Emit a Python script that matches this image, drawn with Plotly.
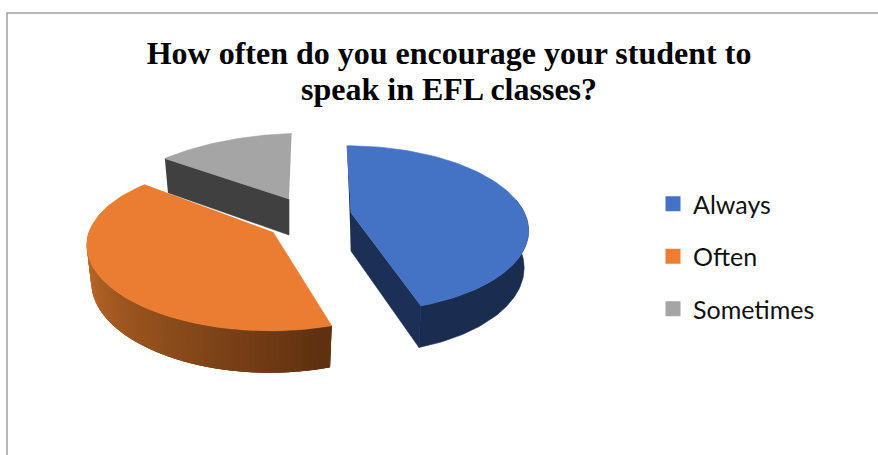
import numpy as np
import plotly.graph_objects as go

title_lines = ["How often do you encourage your student to", "speak in EFL classes?"]
categories = ["Always", "Often", "Sometimes"]
values = [45, 41, 14]
top_colors = ["#4472C4", "#EB7D32", "#A5A5A5"]
legend_colors = ["#4472C4", "#ED7D31", "#A5A5A5"]

W, H = 878, 455
P, DEPTH, SHRINK = 0.19, 36.0, 0.975
# per-slice placement of the exploded wedges: apex, arc centre, radii, lean, tilt
GEOM = [
    dict(ax=351, ay=213, cx=350.5, cy=213, rx=174, rk=80, lean=0.05, tilt=0),
    dict(ax=273, ay=232, cx=265.5, cy=232, rx=175.5, rk=80, lean=0.0, tilt=2.6),
    dict(ax=289, ay=199, cx=289, cy=199, rx=183, rk=78, lean=-0.04, tilt=-5),
]

cum = np.cumsum([0] + values) / sum(values) * 2 * np.pi
spans = list(zip(cum[:-1], cum[1:]))


def top(t, g):
    s = 1 / (1 + P * np.cos(t))
    dy = -g["rk"] * np.cos(t) * s + g["tilt"] * np.sin(t)
    return g["cx"] + g["rx"] * np.sin(t) * s + g["lean"] * dy, g["cy"] + dy


def bottom(t, g):
    x, y = top(t, g)
    s = 1 / (1 + P * np.cos(t))
    return g["cx"] + (x - g["cx"]) * SHRINK, g["cy"] + (y - g["cy"]) * SHRINK + DEPTH * s


def poly(fig, xs, ys, color, lw=0.6):
    fig.add_trace(go.Scatter(x=list(xs), y=list(ys), mode="lines", fill="toself",
                             fillcolor=color, line=dict(color=color, width=lw),
                             hoverinfo="skip", showlegend=False))


def lerp(c1, c2, f):
    return "rgb(%d,%d,%d)" % tuple(a + (b - a) * f for a, b in zip(c1, c2))


fig = go.Figure()

# Sometimes: inner wall, then top face
g = GEOM[2]
a0, a1 = spans[2]
ex, ey = top(a0, g)
bx, by = bottom(a0, g)
poly(fig, [ex, g["ax"], g["ax"], bx], [ey, g["ay"], g["ay"] + DEPTH, by + 1], "#404040")
ts = np.linspace(a0, a1, 40)
px, py = top(ts, g)
poly(fig, [g["ax"], *px], [g["ay"], *py], top_colors[2])

# Often: curved side with gradient (overlapping bands drawn from the left), then top face
g = GEOM[1]
a0, a1 = spans[1]
edges = np.linspace(np.radians(272), a0, 70)
for i in range(len(edges) - 1):
    q = np.linspace(edges[i], edges[min(i + 3, len(edges) - 1)], 6)
    tx, ty = top(q, g)
    ux, uy = bottom(q, g)
    f = i / (len(edges) - 2)
    poly(fig, [*tx, *ux[::-1]], [*ty, *uy[::-1]],
         lerp((204, 115, 45), (94, 49, 17), f), lw=0)
ts = np.linspace(a0, a1, 100)
px, py = top(ts, g)
poly(fig, [g["ax"], *px], [g["ay"], *py], top_colors[1])

# Always: walls, curved side, top face
g = GEOM[0]
a0, a1 = spans[0]
sx, sy = top(a0, g)
poly(fig, [sx, g["ax"], g["ax"]], [sy, g["ay"], g["ay"] + DEPTH + 2], "#1A2C50")
ex, ey = top(a1, g)
bx, by = bottom(a1, g)
poly(fig, [g["ax"], ex, bx, g["ax"]], [g["ay"], ey, by, g["ay"] + DEPTH + 2], "#1C2F57")
ts = np.linspace(np.radians(80), a1, 80)
tx, ty = top(ts, g)
ux, uy = bottom(ts, g)
poly(fig, [*tx, *ux[::-1]], [*ty, *uy[::-1]], "#1A2C50")
ts = np.linspace(a0, a1, 100)
px, py = top(ts, g)
poly(fig, [g["ax"], *px], [g["ay"], *py], top_colors[0])

# Legend entries
for i, (name, col) in enumerate(zip(categories, legend_colors)):
    fig.add_trace(go.Scatter(x=[None], y=[None], mode="markers", name=name,
                             legendgroup=name,
                             marker=dict(symbol="square", size=15, color=col)))

title_font = dict(family="Liberation Serif", size=32, color="#000000", weight="bold")
fig.update_layout(
    width=W, height=H, autosize=False,
    margin=dict(l=0, r=0, t=0, b=0),
    paper_bgcolor="white", plot_bgcolor="white",
    xaxis=dict(range=[0, W], visible=False, fixedrange=True),
    yaxis=dict(range=[H, 0], visible=False, fixedrange=True),
    title=dict(text=title_lines[0], x=449 / W, xanchor="center",
               y=1 - 53 / H, yanchor="middle", font=title_font),
    annotations=[dict(text=title_lines[1], x=449, y=88.5, xref="x", yref="y",
                      xanchor="center", yanchor="middle", showarrow=False,
                      font=title_font)],
    legend=dict(x=653 / W, xanchor="left", y=1 - 181 / H, yanchor="top",
                font=dict(family="Lato", size=25, color="#111111"),
                tracegroupgap=17, bgcolor="rgba(0,0,0,0)"),
    shapes=[dict(type="path", path=f"M 7 {H} L 7 13 L {W} 13", xref="x", yref="y",
                 line=dict(color="#A0A0A0", width=1.5))],
)
fig.write_html("out.html", config={"displayModeBar": False},
               post_script="document.body.style.margin='0';")
